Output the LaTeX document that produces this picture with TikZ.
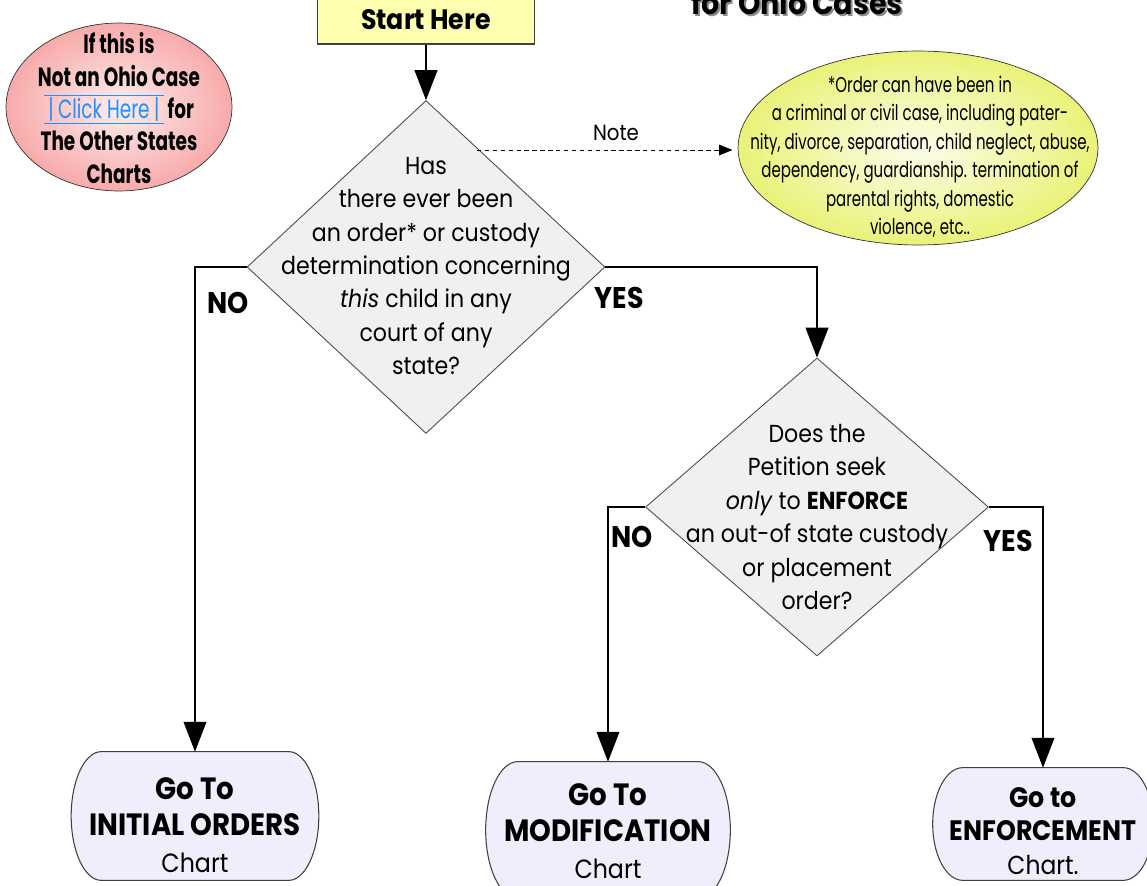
\documentclass[tikz,border=0pt]{standalone}
\usepackage{fontspec}
\setmainfont{Poppins}[FakeStretch=0.9]
\newfontfamily\narrowfont{Poppins}[FakeStretch=0.7]
\usetikzlibrary{shapes.geometric,arrows.meta,backgrounds,calc}

\definecolor{startfill}{RGB}{255,255,176}
\definecolor{askfill}{RGB}{240,240,240}
\definecolor{gofill}{RGB}{238,238,252}
\definecolor{notefill}{RGB}{234,242,120}
\definecolor{pinkfill}{RGB}{248,170,170}
\definecolor{linkblue}{RGB}{30,144,255}

\newcommand\gobig{\bfseries\fontsize{17.5}{20.7}\selectfont}

\tikzset{
  flow/.style={draw=black, line width=0.6pt, -{Triangle[width=13pt,length=17pt]}},
  notearrow/.style={draw=black, line width=0.5pt, dash pattern=on 2.5pt off 2pt,
    -{Triangle[width=6pt,length=7.5pt]}, shorten >=3pt},
  ask/.style={diamond, draw=black!70, fill=askfill, line width=0.5pt, inner sep=0pt},
  asktext/.style={align=center, font=\fontsize{14}{19}\selectfont},
  go/.style={rectangle, inner sep=0pt},
  gotext/.style={align=center, font=\fontsize{15}{20.7}\selectfont},
  capline/.style={draw=black!75, fill=gofill, line width=0.6pt},
  yesno/.style={font=\bfseries\fontsize{17}{19}\selectfont},
}

\begin{document}
\begin{tikzpicture}[x=0.02cm,y=-0.02cm]
  \useasboundingbox (0,0) rectangle (1147,886);
  \clip (0,0) rectangle (1147,886);

  % title, cut at the top
  \node[anchor=base, text=black!45, font=\bfseries\fontsize{18}{22}\selectfont] (titleshadow) at (799,16) {for Ohio Cases};
  \node[anchor=base, font=\bfseries\fontsize{18}{22}\selectfont] (title) at (797,14) {for Ohio Cases};

  \node[draw=black!75, fill=startfill, line width=0.6pt, minimum width=4.34cm, minimum height=0.96cm,
    font=\bfseries\fontsize{16}{18}\selectfont] (start) at (426,20) {Start Here};

  % side notes
  \node[ellipse, draw=black!80, inner color=white!80!pinkfill, outer color=pinkfill,
    minimum width=4.52cm, minimum height=3.36cm, inner sep=0pt] (other) at (119,107) {};
  \node[align=center, font=\narrowfont\bfseries\fontsize{15}{18.4}\selectfont] (othertext) at (119,108)
    {If this is\\Not an Ohio Case\\
     \textcolor{linkblue}{\mdseries$\overline{\underline{\hbox{\,|\,Click Here\,|\,}}}$} for\\
     The Other States\\Charts};

  \node[ellipse, draw=black!80, inner color=white!85!notefill, outer color=notefill,
    minimum width=7.2cm, minimum height=3.88cm, inner sep=0pt] (note) at (918,148) {};
  \node[align=center, font=\narrowfont\fontsize{12.2}{16.2}\selectfont] (notetext) at (920,157)
    {*Order can have been in\\a criminal or civil case, including pater-\\
     nity, divorce, separation, child neglect, abuse,\\
     dependency, guardianship. termination of\\parental rights, domestic\\violence, etc..};

  % questions
  \node[ask, minimum width=7.16cm, minimum height=6.66cm] (q1) at (426,267) {};
  \node[asktext] (q1text) at (426,266)
    {Has\\there ever been\\an order* or custody\\determination concerning\\
     \emph{this} child in any\\court of any\\state?};

  \node[ask, minimum width=6.86cm, minimum height=5.96cm] (q2) at (817,507) {};
  \node[asktext] (q2text) at (817,517)
    {Does the\\Petition seek\\\emph{only} to \textbf{ENFORCE}\\an out-of state custody\\
     or placement\\order?};

  % where to go
  \node[go, minimum width=4.94cm, minimum height=2.56cm] (init) at (195,816) {};
  \node[go, minimum width=4.88cm, minimum height=2.72cm] (modif) at (608,830) {};
  \node[go, minimum width=4.4cm, minimum height=2.24cm] (enforce) at (1043,824) {};

  \begin{scope}[on background layer]
    \foreach \g/\r in {init/30, modif/32, enforce/30}
      \path[capline] ($(\g.north west)+(\r,0)$) -- ($(\g.north east)+(-\r,0)$)
        .. controls ($(\g.north east)+(-0.45*\r,0)$) and ($(\g.east)!0.55!(\g.north east)$) .. (\g.east)
        .. controls ($(\g.east)!0.55!(\g.south east)$) and ($(\g.south east)+(-0.45*\r,0)$) .. ($(\g.south east)+(-\r,0)$)
        -- ($(\g.south west)+(\r,0)$)
        .. controls ($(\g.south west)+(0.45*\r,0)$) and ($(\g.west)!0.55!(\g.south west)$) .. (\g.west)
        .. controls ($(\g.west)!0.55!(\g.north west)$) and ($(\g.north west)+(0.45*\r,0)$) .. cycle;
  \end{scope}

  \node[gotext] (inittext) at (195,825) {{\gobig Go To}\\{\gobig INITIAL ORDERS}\\Chart};
  \node[gotext] (modiftext) at (608,831) {{\gobig Go To}\\{\gobig MODIFICATION}\\Chart};
  \node[gotext, font=\fontsize{14.8}{19}\selectfont] (enforcetext) at (1043,831)
    {\textbf{\fontsize{16}{19}\selectfont Go to}\\\textbf{\fontsize{16}{19}\selectfont ENFORCEMENT}\\Chart.};

  % connectors
  \draw[flow] (start) -- (q1);
  \draw[flow] (q1.west) -| (init);
  \draw[flow] (q1.east) -| (q2);
  \draw[flow] (q2.west) -| (modif);
  \draw[flow] (q2.east) -| (enforce);

  \coordinate (notefrom) at (477,150);
  \draw[notearrow] (notefrom) -- (notefrom -| note.west);
  \node[font=\fontsize{12.5}{14}\selectfont] (notelabel) at (616,133) {Note};

  \node[yesno] (no1) at (228,303) {NO};
  \node[yesno] (yes1) at (619,298) {YES};
  \node[yesno] (no2) at (632,537) {NO};
  \node[yesno] (yes2) at (1008,541) {YES};
\end{tikzpicture}
\end{document}
